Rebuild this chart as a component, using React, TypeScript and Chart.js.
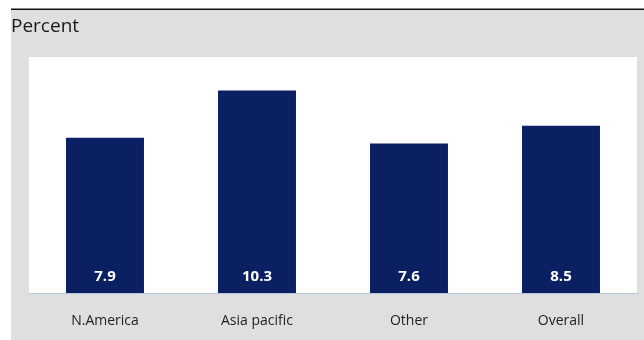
import React, { useEffect, useRef } from "react";
import { Chart, registerables } from "chart.js";

Chart.register(...registerables);

const categories = ["N.America", "Asia pacific", "Other", "Overall"];
const values = [7.9, 10.3, 7.6, 8.5];
const yMin = 0;
const yMax = 12;
const axisTitle = "Percent";

const BAR = "#0a2062";
const PANEL = "#dfdfdf";
const FONT = "'Open Sans', 'Noto Sans', sans-serif";

// Gray panel with a dark rule on top, white plot area, and the unit label.
const backdrop = {
  id: "backdrop",
  beforeDraw(chart: Chart) {
    const { ctx, chartArea, width, height } = chart;
    ctx.save();
    ctx.fillStyle = PANEL;
    ctx.fillRect(11, 10, width - 11, height - 10);
    ctx.fillStyle = "#111";
    ctx.fillRect(11, 8.5, width - 11, 1.5);
    ctx.fillStyle = "#ffffff";
    ctx.fillRect(chartArea.left, chartArea.top, chartArea.right - chartArea.left, chartArea.bottom - chartArea.top);
    ctx.fillStyle = "#1a1a1a";
    ctx.font = `19px ${FONT}`;
    ctx.textBaseline = "alphabetic";
    ctx.textAlign = "left";
    ctx.fillText(axisTitle, 11, 32);
    ctx.restore();
  },
};

// Value labels printed in white near the foot of each bar.
const valueLabels = {
  id: "valueLabels",
  afterDatasetsDraw(chart: Chart) {
    const { ctx } = chart;
    const meta = chart.getDatasetMeta(0);
    ctx.save();
    ctx.fillStyle = "#ffffff";
    ctx.font = `bold 15px ${FONT}`;
    ctx.textAlign = "center";
    ctx.textBaseline = "middle";
    meta.data.forEach((bar: any, i: number) => {
      const v = chart.data.datasets[0].data[i] as number;
      ctx.fillText(v.toFixed(1), bar.x, bar.base - 16);
    });
    ctx.restore();
  },
};

export default function App() {
  const ref = useRef<HTMLCanvasElement>(null);

  useEffect(() => {
    document.body.style.margin = "0";
    const chart = new Chart(ref.current!, {
      type: "bar",
      data: {
        labels: categories,
        datasets: [
          {
            data: values,
            backgroundColor: BAR,
            barPercentage: 0.513,
            categoryPercentage: 1,
          },
        ],
      },
      options: {
        responsive: false,
        animation: false,
        layout: { padding: { top: 57, left: 29, right: 7, bottom: 11 } },
        plugins: { legend: { display: false }, tooltip: { enabled: false } },
        scales: {
          x: {
            grid: { display: false, drawTicks: false },
            border: { display: true, color: "#b4c8e0", width: 1 },
            ticks: { color: "#222", font: { family: FONT, size: 14 }, padding: 20 },
            afterFit(scale: any) {
              scale.height = 36;
            },
          },
          y: { display: false, min: yMin, max: yMax },
        },
      },
      plugins: [backdrop, valueLabels],
    });
    return () => chart.destroy();
  }, []);

  return <canvas ref={ref} width={644} height={340} style={{ display: "block" }} />;
}
